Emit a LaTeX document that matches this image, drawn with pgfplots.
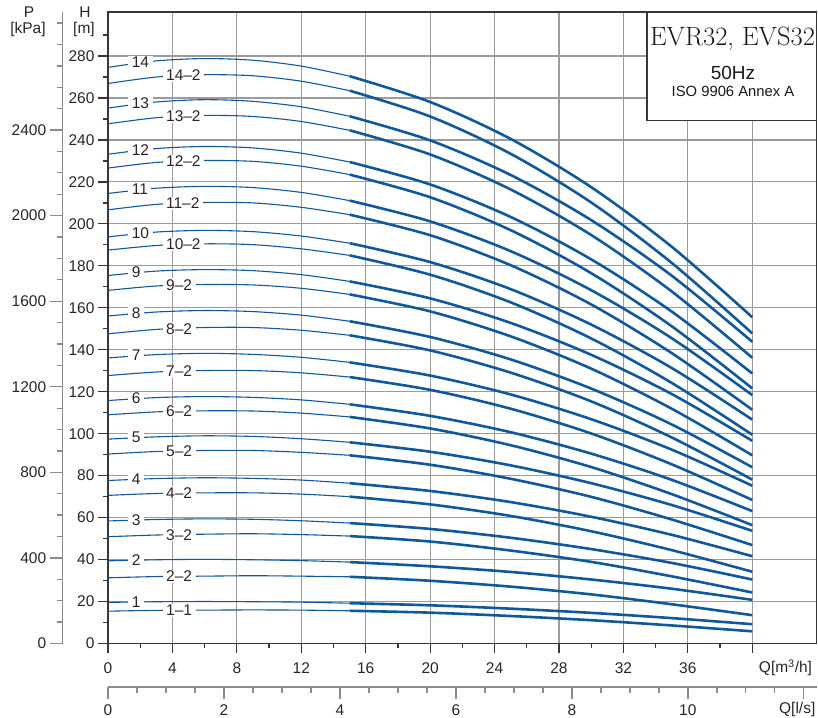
\documentclass[border=0pt]{standalone}
\usepackage{fontspec}
\setsansfont{Liberation Sans}
\renewcommand{\familydefault}{\sfdefault}
\usepackage{pgfplots}
\usepackage{pgfplotstable}
\pgfplotsset{compat=1.18}
\definecolor{crv}{RGB}{16,88,156}
\definecolor{grd}{RGB}{155,155,155}
\definecolor{frm}{RGB}{55,55,55}
\definecolor{sec}{RGB}{140,140,140}
\newcommand{\tf}{\fontsize{15.5bp}{18bp}\selectfont}
\tikzset{lab/.style={fill=white, inner xsep=3.5bp, inner ysep=1bp, anchor=west, font=\tf, text=black!85}}

\pgfplotstableread{
Q  n14   m14   n13   m13   n12   m12   n11   m11   n10   m10   n9    m9    n8    m8    n7    m7    n6    m6    n5   m5   n4   m4   n3   m3   n2   m2   n1   m1
0  274.6 266.9 255.2 247.7 233.2 226.6 214.5 206.7 193.8 187.5 175.4 168.3 156.1 147.6 136.1 127.7 115.8 109.0 97.4 90.3 77.7 70.6 58.4 50.9 39.4 31.3 19.6 15.4
3  277.7 270.0 258.1 250.6 235.9 229.3 217.0 209.3 196.1 189.7 177.5 170.4 158.0 149.7 137.7 129.4 117.2 110.4 98.5 91.5 78.6 71.5 59.1 51.7 39.9 31.9 19.9 15.8
6  278.8 271.1 259.2 251.7 236.9 230.2 217.9 210.2 196.9 190.5 178.2 171.1 158.7 150.6 138.3 130.1 117.7 110.9 99.0 92.0 79.0 71.8 59.4 52.1 40.1 32.1 20.0 15.9
9  278.0 270.6 258.4 251.2 236.2 229.8 217.3 210.0 196.3 190.1 177.7 170.9 158.2 150.6 137.8 130.1 117.3 110.8 98.7 92.0 78.7 71.8 59.2 52.3 39.9 32.3 19.9 16.0
12 275.2 268.0 255.8 248.8 233.7 227.5 215.0 207.9 194.2 188.1 175.8 169.3 156.5 149.3 136.4 129.0 116.1 109.8 97.6 91.1 77.9 71.2 58.5 51.9 39.5 32.1 19.7 15.9
15 270.4 263.5 251.3 244.6 229.5 223.5 211.1 204.4 190.8 185.0 172.6 166.4 153.6 146.9 134.0 127.0 114.0 108.0 95.9 89.7 76.4 70.0 57.4 51.2 38.8 31.8 19.2 15.6
20 258.1 251.2 239.8 233.1 218.8 212.7 201.2 194.6 181.8 175.8 164.5 158.3 146.1 139.7 127.7 120.9 108.5 102.5 91.4 85.2 72.7 66.3 54.6 48.6 36.8 29.9 18.2 14.7
25 240.5 233.4 223.3 216.4 203.3 197.0 187.0 180.3 168.9 162.6 152.8 146.4 135.4 129.1 118.7 111.9 100.7 94.5 84.9 78.5 67.4 60.8 50.4 44.3 34.1 27.1 16.6 13.1
30 217.5 210.2 201.8 194.7 183.1 176.5 168.4 161.6 152.0 145.4 137.6 131.0 121.5 115.4 106.9 100.1 90.5 84.1 76.4 69.9 60.4 53.5 45.0 38.9 30.5 23.4 14.6 11.1
35 189.1 181.4 175.3 167.8 158.2 151.2 145.5 138.4 131.3 124.2 118.9 111.9 104.4 98.2 92.4 85.4 78.0 71.2 66.0 59.1 51.8 44.5 38.4 32.0 26.1 18.7 12.1 8.6
40 155.5 147.8 143.8 136.2 128.7 121.6 118.4 111.4 106.7 99.5 96.6 89.7 84.0 78.1 75.2 68.4 63.1 56.4 53.7 46.9 41.6 34.2 30.5 24.3 20.8 13.5 9.2 5.8
}\curves

\begin{document}
\begin{tikzpicture}[x=1bp,y=1bp]
% main axis: H [m] vs Q [m3/h]
\begin{axis}[
  at={(108bp,74.5bp)}, anchor=south west,
  scale only axis, width=708.7bp, height=631.5bp,
  xmin=0, xmax=44, ymin=0, ymax=301,
  axis line style={draw=frm, line width=1.3bp},
  xtick={0,4,...,40}, xticklabels={0,4,8,12,16,20,24,28,32,36,{}},
  minor xtick={2,6,...,38},
  ytick={0,20,...,280}, minor ytick={10,30,...,290},
  tick pos=left, tick align=outside,
  major tick length=10bp, minor tick length=5bp,
  tick style={draw=frm, line width=1.2bp},
  xmajorgrids, ymajorgrids,
  major grid style={draw=grd, line width=1.1bp},
  tick label style={font=\tf, text=black!85},
  xticklabel style={yshift=-6bp},
  /pgf/number format/assume math mode=true,
]
\pgfplotsinvokeforeach{n14,m14,n13,m13,n12,m12,n11,m11,n10,m10,n9,m9,n8,m8,n7,m7,n6,m6,n5,m5,n4,m4,n3,m3,n2,m2,n1,m1}{
  \addplot[crv, line width=1.1bp, smooth, restrict x to domain=0:15] table[x=Q,y=#1]{\curves};
  \addplot[crv, line width=2.6bp, smooth, restrict x to domain=15:40] table[x=Q,y=#1]{\curves};
}
% curve labels
\node[lab] at (axis cs:1.25,276.9) {14};
\node[lab] at (axis cs:1.25,257.4) {13};
\node[lab] at (axis cs:1.25,235.2) {12};
\node[lab] at (axis cs:1.25,216.4) {11};
\node[lab] at (axis cs:1.25,195.5) {10};
\node[lab] at (axis cs:1.25,176.9) {9};
\node[lab] at (axis cs:1.25,157.5) {8};
\node[lab] at (axis cs:1.25,137.3) {7};
\node[lab] at (axis cs:1.25,116.8) {6};
\node[lab] at (axis cs:1.25,98.2) {5};
\node[lab] at (axis cs:1.25,78.4) {4};
\node[lab] at (axis cs:1.25,58.9) {3};
\node[lab] at (axis cs:1.25,39.8) {2};
\node[lab] at (axis cs:1.25,19.8) {1};
\node[lab] at (axis cs:3.38,270.8) {14--2};
\node[lab] at (axis cs:3.38,251.4) {13--2};
\node[lab] at (axis cs:3.38,230.0) {12--2};
\node[lab] at (axis cs:3.38,209.9) {11--2};
\node[lab] at (axis cs:3.38,190.4) {10--2};
\node[lab] at (axis cs:3.38,170.9) {9--2};
\node[lab] at (axis cs:3.38,150.0) {8--2};
\node[lab] at (axis cs:3.38,129.7) {7--2};
\node[lab] at (axis cs:3.38,110.7) {6--2};
\node[lab] at (axis cs:3.38,91.7) {5--2};
\node[lab] at (axis cs:3.38,71.8) {4--2};
\node[lab] at (axis cs:3.38,51.8) {3--2};
\node[lab] at (axis cs:3.38,31.9) {2--2};
\node[lab] at (axis cs:3.38,15.7) {1--1};
\end{axis}
% P [kPa] axis
\begin{axis}[
  at={(62.7bp,74.5bp)}, anchor=south west,
  scale only axis, width=1bp, height=631.5bp,
  xmin=0, xmax=1, ymin=0, ymax=2951.8,
  hide x axis, axis y line=left,
  axis line style={-, draw=sec, line width=1.3bp},
  ytick={0,400,...,2400}, minor ytick={100,200,...,2900},
  tick align=outside, major tick length=13bp, minor tick length=6bp,
  tick style={draw=sec, line width=1.3bp},
  yticklabel style={font=\tf, text=black!85},
  scaled y ticks=false,
  /pgf/number format/assume math mode=true,
  /pgf/number format/1000 sep={},
]
\end{axis}
% Q [l/s] axis
\begin{axis}[
  at={(108bp,31bp)}, anchor=south west,
  scale only axis, width=708.7bp, height=1bp,
  xmin=0, xmax=12.2222, ymin=0, ymax=1,
  hide y axis, axis x line=bottom,
  axis line style={-, draw=sec, line width=1.3bp},
  xtick={0,2,...,12}, xticklabels={0,2,4,6,8,10,{}},
  minor x tick num=3,
  tick align=outside, major tick length=12bp, minor tick length=6.5bp,
  tick style={draw=sec, line width=1.3bp},
  xticklabel style={font=\tf, text=black!85, inner sep=0.8bp, yshift=-4.5bp},
]
\end{axis}
% axis names
\node[font=\tf, text=black!85] at (85,706) {H};
\node[font=\tf, text=black!85] at (84,688) {[m]};
\node[font=\tf, text=black!85] at (29,706) {P};
\node[font=\tf, text=black!85] at (28,688) {[kPa]};
\node[font=\tf, text=black!85, anchor=east] at (815.5,50) {Q[m\textsuperscript{3}/h]};
\node[font=\tf, text=black!85, anchor=east, inner sep=1bp] at (816.5,9) {Q[l/s]};
% title box
\draw[draw=frm, line width=1.2bp, fill=white] (647,706) rectangle (816.7,597.3);
\node[font=\rmfamily\fontsize{26.5bp}{28bp}\selectfont, text=black!90] at (732.5,679) {EVR32, EVS32};
\node[font=\fontsize{19bp}{21bp}\selectfont, text=black!90] at (733,645.5) {50Hz};
\node[font=\fontsize{14.8bp}{16bp}\selectfont, text=black!90] at (733,626.7) {ISO 9906 Annex A};
\pgfresetboundingbox
\path[use as bounding box] (0,0) rectangle (818,718);
\end{tikzpicture}
\end{document}
